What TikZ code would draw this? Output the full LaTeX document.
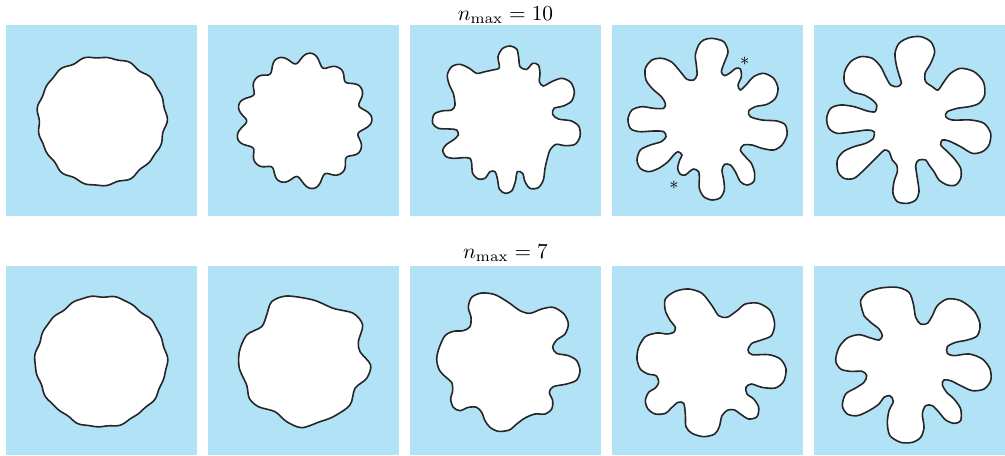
\documentclass[tikz,border=0pt]{standalone}
\definecolor{fondbleu}{RGB}{178,226,246}
\tikzset{
  panneau/.style={fill=fondbleu},
  doigt/.style={draw=black!85, fill=white, line width=0.8pt},
  titre/.style={anchor=base, scale=1.07},
  etoile/.style={inner sep=0pt, font=\small}
}
\begin{document}
\begin{tikzpicture}[x=0.5pt, y=-0.5pt]
\useasboundingbox (0,0) rectangle (1005,455);
% Panneaux bleus
\foreach \xa in {6,208,410,612,814}{
  \fill[panneau] (\xa,25) rectangle ++(191,191);
  \fill[panneau] (\xa,266) rectangle ++(191,189);
}
% Titres
\node[titre] (titre10) at (505.5,20.5) {$n_{\max}=10$};
\node[titre] (titre7) at (505.5,258.5) {$n_{\max}=7$};

% Ligne du haut
\begin{scope}[shift={(101.5,120.5)}]
  \draw[doigt] plot[domain=0:358, samples=180, smooth cycle]
    (\x:{64+0.8*cos(17*\x)+0.7*cos(11*\x+30)+0.9*cos(3*\x+60)});
\end{scope}
\begin{scope}[shift={(303.5,120.5)}]
  \draw[doigt] plot[domain=0:359, samples=360, smooth cycle]
    (\x:{62+4.6*cos(13*\x+10)-0.6*cos(26*\x+20)+1.5*cos(4*\x+40)+1.2*cos(9*\x)});
\end{scope}
\begin{scope}[shift={(410,25)}, scale=1/3]
  \draw[doigt] plot[smooth cycle] coordinates {
    (268,128) (264,95) (278,70) (300,63) (320,72) (326,98) (330,125) (350,133)
    (368,115) (385,120) (390,145) (388,170) (400,183) (425,170) (455,160)
    (482,172) (493,200) (485,228) (460,243) (432,250) (428,268) (445,282)
    (485,288) (507,305) (510,335) (495,358) (465,362) (438,358) (420,375)
    (412,400) (405,430) (400,465) (385,488) (360,490) (345,470) (338,445)
    (322,440) (316,470) (305,498) (285,505) (268,492) (262,460) (255,440)
    (240,440) (225,460) (205,462) (188,445) (185,415) (180,400) (160,398)
    (130,400) (108,395) (98,375) (110,358) (130,345) (145,330) (140,315)
    (120,312) (85,310) (68,295) (72,268) (95,258) (125,255) (135,240)
    (130,205) (118,180) (112,150) (125,125) (150,118) (178,130) (200,145)
    (225,140) (248,135)};
\end{scope}
\begin{scope}[shift={(612,25)}, scale=1/3]
  \draw[doigt] plot[smooth cycle] coordinates {
    (300,40) (335,50) (348,80) (338,110) (328,140) (338,152) (355,143)
    (372,130) (385,132) (388,155) (378,180) (385,195) (402,180) (425,155)
    (455,145) (485,160) (498,190) (490,220) (465,238) (430,245) (410,258)
    (415,275) (450,285) (495,288) (520,300) (525,330) (510,360) (485,375)
    (450,370) (420,360) (395,360) (385,375) (400,395) (418,415) (428,445)
    (425,470) (405,480) (385,470) (370,440) (355,420) (338,418) (330,435)
    (335,465) (337,495) (325,518) (300,525) (275,515) (262,490) (262,460)
    (260,440) (245,432) (232,440) (220,450) (205,448) (197,430) (203,405)
    (210,390) (198,380) (185,390) (168,410) (140,430) (110,440) (85,430)
    (75,405) (85,375) (115,360) (148,350) (162,335) (155,320) (125,318)
    (80,320) (55,310) (48,282) (60,255) (90,245) (125,250) (155,250)
    (160,235) (148,215) (122,192) (102,165) (100,130) (120,105) (150,100)
    (180,112) (205,140) (225,163) (245,165) (255,150) (253,120) (250,90)
    (260,60) (275,45)};
  \node[etoile] (etoile1) at (398,108) {$\ast$};
  \node[etoile] (etoile2) at (186,480) {$\ast$};
\end{scope}
\begin{scope}[shift={(814,25)}, scale=1/3]
  \draw[doigt] plot[smooth cycle] coordinates {
    (390,170) (410,145) (440,130) (480,140) (508,170) (512,210) (495,235)
    (465,245) (430,250) (400,260) (395,275) (415,285) (470,285) (510,295)
    (530,325) (525,360) (505,380) (475,385) (440,365) (405,348) (385,345)
    (380,360) (395,375) (420,400) (440,430) (440,460) (425,480) (400,480)
    (375,465) (360,440) (345,420) (335,405) (315,405) (305,420) (310,460)
    (315,500) (305,525) (280,535) (250,530) (237,505) (240,470) (250,440)
    (248,420) (235,405) (225,380) (212,375) (200,385) (185,400) (150,435)
    (120,460) (90,460) (72,440) (70,405) (88,380) (120,365) (155,355)
    (178,340) (180,320) (160,315) (120,320) (70,325) (45,310) (38,280)
    (50,250) (80,240) (120,245) (160,258) (183,260) (188,240) (175,225)
    (150,210) (115,200) (92,175) (92,140) (110,110) (140,95) (175,100)
    (200,125) (215,155) (230,180) (250,185) (262,175) (255,150) (247,120)
    (243,85) (255,55) (285,38) (320,35) (350,50) (362,80) (350,115)
    (333,145) (335,170) (355,185) (372,195)};
\end{scope}

% Ligne du bas
\begin{scope}[shift={(101,361.5)}]
  \draw[doigt] plot[domain=0:358, samples=180, smooth cycle]
    (\x:{65+0.8*cos(10*\x)+0.5*cos(19*\x+50)+0.6*cos(4*\x)});
\end{scope}
\begin{scope}[shift={(0,225)}, scale=1/3]
  \draw[doigt] plot[smooth cycle] coordinates {
    (860,213) (940,225) (1000,250) (1060,265) (1088,300) (1075,350)
    (1080,380) (1112,420) (1100,460) (1065,490) (1050,540) (1000,575)
    (960,590) (905,608) (860,590) (825,560) (775,545) (748,520) (740,480)
    (718,430) (718,380) (740,330) (785,305) (800,270) (815,230)};
\end{scope}
\begin{scope}[shift={(410,264)}, scale=1/3]
  \draw[doigt] plot[smooth cycle] coordinates {
    (175,130) (185,100) (215,87) (255,92) (295,115) (330,140) (360,148)
    (395,135) (430,130) (462,150) (475,180) (465,210) (440,228) (428,250)
    (440,268) (475,275) (500,290) (510,320) (500,348) (470,360) (430,368)
    (418,385) (428,410) (425,435) (405,450) (375,450) (345,462) (320,480)
    (298,498) (265,502) (240,490) (225,470) (215,445) (200,430) (175,430)
    (150,440) (130,430) (122,405) (128,380) (125,355) (108,340) (88,318)
    (80,285) (88,250) (105,215) (130,202) (160,200) (180,188) (183,160)};
\end{scope}
\begin{scope}[shift={(612,264)}, scale=1/3]
  \draw[doigt] plot[smooth cycle] coordinates {
    (160,140) (160,105) (190,82) (230,75) (270,88) (300,125) (320,155)
    (345,160) (375,140) (400,120) (440,118) (475,140) (488,180) (478,215)
    (448,228) (420,238) (408,258) (420,272) (470,272) (505,285) (522,315)
    (515,352) (490,372) (450,370) (418,360) (402,370) (405,390) (425,405)
    (440,430) (435,458) (410,465) (385,450) (368,438) (348,438) (330,455)
    (322,488) (308,510) (275,518) (240,508) (222,488) (220,450) (215,418)
    (198,415) (180,430) (160,448) (130,450) (108,435) (100,410) (110,385)
    (130,372) (140,355) (132,335) (108,330) (85,315) (75,285) (80,250)
    (100,218) (135,207) (165,210) (185,205) (190,190) (175,170)};
\end{scope}
\begin{scope}[shift={(814,264)}, scale=1/3]
  \draw[doigt] plot[smooth cycle] coordinates {
    (145,140) (140,110) (160,85) (200,72) (250,70) (285,85) (298,120)
    (305,160) (320,180) (340,178) (355,155) (370,125) (400,105) (440,110)
    (480,140) (498,180) (490,215) (460,228) (425,235) (400,248) (400,268)
    (420,275) (465,270) (505,285) (528,315) (530,350) (510,375) (475,380)
    (440,365) (410,350) (390,348) (385,362) (398,385) (420,405) (440,435)
    (440,470) (420,478) (395,468) (375,445) (355,425) (335,425) (325,450)
    (330,490) (320,520) (295,535) (260,535) (228,515) (220,478) (225,440)
    (238,412) (228,395) (210,400) (195,420) (165,440) (130,455) (100,450)
    (85,425) (95,390) (125,372) (150,355) (158,335) (145,322) (110,322)
    (80,315) (65,290) (75,250) (100,222) (135,212) (170,222) (195,228)
    (205,215) (195,195) (170,175) (150,155)};
\end{scope}
\end{tikzpicture}
\end{document}
